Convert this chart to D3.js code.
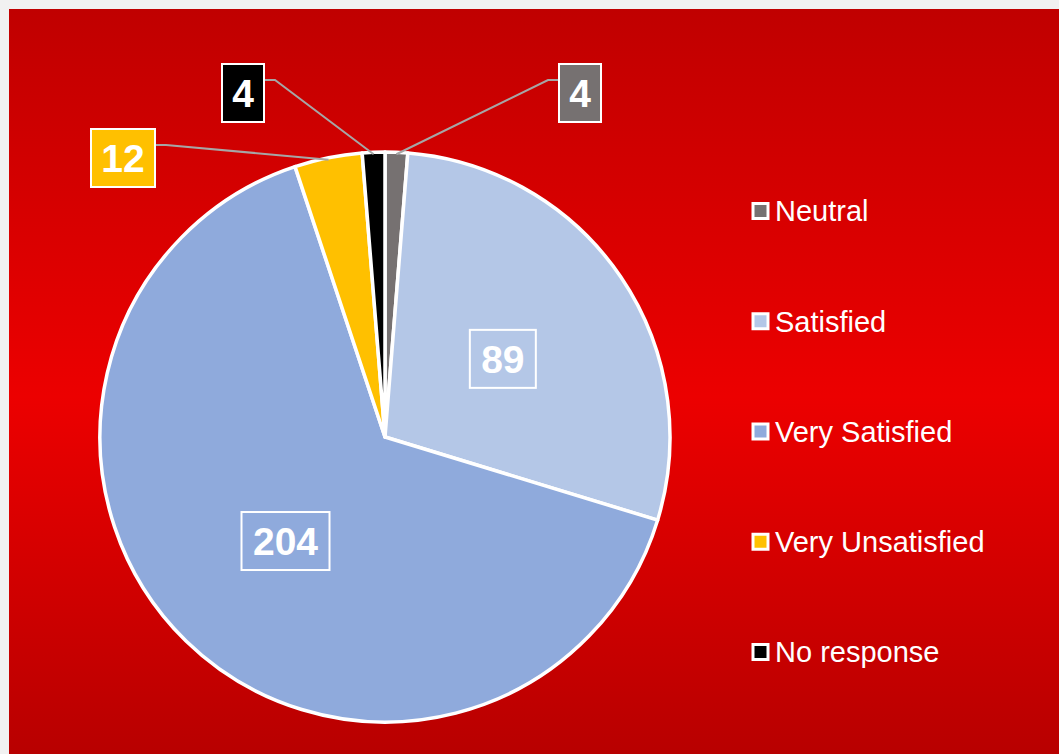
<!DOCTYPE html>
<html>
<head>
<meta charset="utf-8">
<script src="https://cdn.jsdelivr.net/npm/d3@7"></script>
<style>
  html, body { margin: 0; padding: 0; background: #f1f1f1; }
  svg { display: block; }
</style>
</head>
<body>
<div id="chart"></div>
<script>
// data
const categories = ["Neutral", "Satisfied", "Very Satisfied", "Very Unsatisfied", "No response"];
const values = [4, 89, 204, 12, 4];
const colors = ["#767171", "#b4c7e7", "#8faadc", "#ffc000", "#000000"];

// callout box centers for the small slices (layout only)
const callouts = {
  "Neutral": [580, 93],
  "Very Unsatisfied": [123, 158],
  "No response": [243, 93]
};

var width = 1059, height = 754;
var svg = d3.select("#chart").append("svg").attr("width", width).attr("height", height);

// background gradient
var defs = svg.append("defs");
var bg = defs.append("linearGradient").attr("id", "bg")
  .attr("x1", "0%").attr("y1", "0%").attr("x2", "0%").attr("y2", "100%");
bg.append("stop").attr("offset", "0%").attr("stop-color", "#c00000");
bg.append("stop").attr("offset", "52%").attr("stop-color", "#ec0000");
bg.append("stop").attr("offset", "100%").attr("stop-color", "#b80000");

svg.append("rect").attr("x", 9).attr("y", 9).attr("width", width - 9).attr("height", height - 9)
  .attr("fill", "url(#bg)");

// pie
var cx = 385, cy = 437, r = 285;
var data = categories.map((c, i) => ({ name: c, value: values[i], color: colors[i] }));
var pie = d3.pie().value(d => d.value).sort(null);
var arcs = pie(data);
var arc = d3.arc().innerRadius(0).outerRadius(r);
var edge = d3.arc().innerRadius(r - 2).outerRadius(r - 2);
var mid = d3.arc().innerRadius(r * 0.5).outerRadius(r * 0.5);

var g = svg.append("g").attr("transform", "translate(" + cx + "," + cy + ")");
g.selectAll("path.slice")
  .data(arcs)
  .enter()
  .append("path")
  .attr("class", "slice")
  .attr("d", arc)
  .attr("fill", d => d.data.color)
  .attr("stroke", "#ffffff")
  .attr("stroke-width", 3.5)
  .attr("stroke-linejoin", "round");

// inside labels for big slices
var big = arcs.filter(d => !callouts[d.data.name]);
big.forEach(function (d) {
  var p = mid.centroid(d);
  var txt = String(d.value);
  var w = txt.length * 22 + 22, h = 58;
  var lg = g.append("g").attr("transform", "translate(" + p[0] + "," + (p[1] + 2) + ")");
  lg.append("rect").attr("x", -w / 2).attr("y", -h / 2).attr("width", w).attr("height", h)
    .attr("fill", "none").attr("stroke", "#ffffff").attr("stroke-width", 2);
  lg.append("text").attr("text-anchor", "middle").attr("dy", "0.36em")
    .attr("font-family", "Liberation Sans, Arial, sans-serif")
    .attr("font-weight", "bold").attr("font-size", 39).attr("fill", "#ffffff")
    .text(txt);
});

// callouts for small slices
arcs.filter(d => callouts[d.data.name]).forEach(function (d) {
  var c = callouts[d.data.name];
  var txt = String(d.value);
  var w = txt.length * 22 + 20, h = 58;
  var a = edge.centroid(d);
  var ax = a[0] + cx, ay = a[1] + cy;
  var left = ax > c[0]; // box sits left of anchor -> line leaves from right edge
  var bx = left ? c[0] + w / 2 : c[0] - w / 2;
  var by = c[1] - 13;
  var kx = left ? bx + 11 : bx - 11;
  svg.append("polyline")
    .attr("points", [[bx, by], [kx, by], [ax, ay]].map(p => p.join(",")).join(" "))
    .attr("fill", "none").attr("stroke", "#a6a6a6").attr("stroke-width", 2);
  svg.append("rect").attr("x", c[0] - w / 2).attr("y", c[1] - h / 2).attr("width", w).attr("height", h)
    .attr("fill", d.data.color).attr("stroke", "#ffffff").attr("stroke-width", 2);
  svg.append("text").attr("x", c[0]).attr("y", c[1]).attr("text-anchor", "middle").attr("dy", "0.36em")
    .attr("font-family", "Liberation Sans, Arial, sans-serif")
    .attr("font-weight", "bold").attr("font-size", 39).attr("fill", "#ffffff")
    .text(txt);
});

// legend
var ly = d3.scalePoint().domain(categories).range([211, 652]);
var leg = svg.selectAll("g.leg").data(data).enter().append("g").attr("class", "leg")
  .attr("transform", d => "translate(753," + ly(d.name) + ")");
leg.append("rect").attr("x", 0).attr("y", -7.5).attr("width", 15).attr("height", 15)
  .attr("fill", d => d.color).attr("stroke", "#ffffff").attr("stroke-width", 3);
leg.append("text").attr("x", 22).attr("dy", "0.36em")
  .attr("font-family", "Liberation Sans, Arial, sans-serif")
  .attr("font-size", 29).attr("fill", "#ffffff")
  .text(d => d.name);
</script>
</body>
</html>
